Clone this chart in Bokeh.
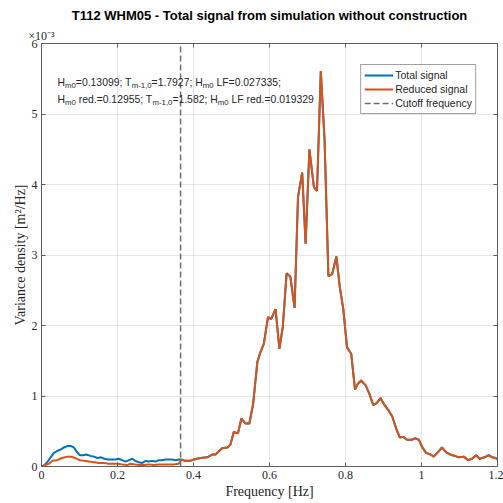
from bokeh.plotting import figure
from bokeh.models import (Range1d, LinearAxis, Label, FixedTicker, Legend, LegendItem,
                          CustomLabelingPolicy)
from bokeh.embed import file_html
from bokeh.resources import INLINE

# ---------------- data (variance density in units of 1e-3 m^2/Hz) ----------------
title_text = "T112 WHM05 - Total signal from simulation without construction"
x_label = "Frequency [Hz]"
y_label = "Variance density [m\u00b2/Hz]"
y_scale_text = "\u00d710\u207b\u00b3"

x_ticks = [0, 0.2, 0.4, 0.6, 0.8, 1.0, 1.2]
x_tick_labels = ["0", "0.2", "0.4", "0.6", "0.8", "1", "1.2"]
y_ticks = [0, 1, 2, 3, 4, 5, 6]
y_tick_labels = ["0", "1", "2", "3", "4", "5", "6"]

cutoff_freq = 0.366

freq_reduced = [0.000, 0.010, 0.020, 0.028, 0.041, 0.054, 0.068, 0.078, 0.089, 0.101,
                0.112, 0.125, 0.138, 0.151, 0.164, 0.177, 0.190, 0.201, 0.212, 0.226,
                0.234, 0.245, 0.256, 0.270, 0.282, 0.295, 0.309, 0.322, 0.335, 0.348,
                0.361, 0.368, 0.377, 0.383, 0.392, 0.401, 0.418, 0.436, 0.449, 0.458,
                0.475, 0.489, 0.497, 0.506, 0.517, 0.526, 0.537, 0.547, 0.557, 0.568,
                0.576, 0.585, 0.596, 0.604, 0.616, 0.626, 0.635, 0.645, 0.655, 0.666,
                0.675, 0.686, 0.695, 0.705, 0.717, 0.725, 0.735, 0.745, 0.755, 0.765,
                0.776, 0.785, 0.794, 0.804, 0.815, 0.825, 0.832, 0.841, 0.853, 0.863,
                0.873, 0.882, 0.892, 0.903, 0.914, 0.923, 0.934, 0.943, 0.952, 0.962,
                0.974, 0.984, 0.993, 1.002, 1.013, 1.024, 1.032, 1.043, 1.054, 1.065,
                1.076, 1.088, 1.098, 1.111, 1.123, 1.133, 1.144, 1.153, 1.166, 1.177,
                1.186, 1.195, 1.200]
psd_reduced = [0.00, 0.02, 0.04, 0.08, 0.09, 0.12, 0.14, 0.14, 0.12, 0.09,
               0.08, 0.07, 0.06, 0.05, 0.05, 0.04, 0.04, 0.04, 0.03, 0.02,
               0.04, 0.03, 0.02, 0.02, 0.03, 0.02, 0.03, 0.03, 0.03, 0.03,
               0.04, 0.10, 0.08, 0.08, 0.08, 0.10, 0.12, 0.13, 0.17, 0.17,
               0.26, 0.27, 0.31, 0.49, 0.47, 0.68, 0.61, 0.61, 0.89, 1.48,
               1.62, 1.74, 2.12, 2.09, 2.23, 1.67, 1.98, 2.74, 2.69, 2.25,
               3.82, 4.17, 3.16, 4.50, 3.96, 3.91, 5.61, 4.62, 2.70, 2.73,
               2.98, 2.54, 2.24, 1.69, 1.60, 1.09, 1.17, 1.22, 1.15, 1.03,
               0.87, 0.90, 0.97, 0.87, 0.79, 0.71, 0.53, 0.41, 0.42, 0.38,
               0.38, 0.40, 0.38, 0.27, 0.19, 0.17, 0.14, 0.20, 0.27, 0.20,
               0.17, 0.15, 0.13, 0.14, 0.09, 0.11, 0.16, 0.11, 0.13, 0.16,
               0.13, 0.12, 0.10]

freq_total_low = [0.000, 0.006, 0.015, 0.024, 0.032, 0.041, 0.050, 0.059, 0.068, 0.078,
                  0.085, 0.094, 0.101, 0.110, 0.118, 0.129, 0.138, 0.147, 0.157, 0.166,
                  0.175, 0.186, 0.195, 0.203, 0.212, 0.221, 0.230, 0.239, 0.247, 0.256,
                  0.265, 0.274, 0.282, 0.291, 0.300, 0.309, 0.318, 0.326, 0.335, 0.344,
                  0.353, 0.361, 0.368]
psd_total_low = [0.00, 0.01, 0.06, 0.13, 0.19, 0.22, 0.24, 0.27, 0.29, 0.29,
                 0.27, 0.20, 0.16, 0.16, 0.17, 0.15, 0.14, 0.12, 0.13, 0.11,
                 0.10, 0.10, 0.10, 0.11, 0.09, 0.07, 0.09, 0.11, 0.08, 0.06,
                 0.05, 0.08, 0.07, 0.08, 0.07, 0.09, 0.09, 0.10, 0.10, 0.10,
                 0.09, 0.10, 0.10]

# above the cutoff the total signal equals the reduced one
freq_total = freq_total_low + [f for f in freq_reduced if f > freq_total_low[-1]]
psd_total = psd_total_low + [v for f, v in zip(freq_reduced, psd_reduced) if f > freq_total_low[-1]]

series_names = ["Total signal", "Reduced signal", "Cutoff frequency"]
line1 = [("H", False), ("m0", True), ("=0.13099; T", False), ("m-1,0", True),
         ("=1.7927; H", False), ("m0", True), (" LF=0.027335;", False)]
line2 = [("H", False), ("m0", True), (" red.=0.12955; T", False), ("m-1,0", True),
         ("=1.582; H", False), ("m0", True), (" LF red.=0.019329", False)]

# ---------------- styling ----------------
BLUE = "#0072BD"
ORANGE = "#D95319"
AXC = "#5e5e5e"
TXT = "#262626"
SANS = "Liberation Sans"
SERIF = "Liberation Serif"

ARIAL = {" ": 278, "=": 584, ".": 278, ";": 278, ",": 278, "-": 333, "H": 722, "T": 611,
         "L": 556, "F": 611, "m": 833, "r": 333, "e": 556, "d": 556}
for ch in "0123456789":
    ARIAL[ch] = 556


def text_w(s, size):
    return sum(ARIAL.get(c, 556) for c in s) * size / 1000.0


p = figure(width=503, height=503, output_backend="svg", toolbar_location=None,
           x_range=Range1d(0, 1.2), y_range=Range1d(0, 6),
           min_border_left=41, min_border_right=6, min_border_top=43, min_border_bottom=37,
           background_fill_color="white", border_fill_color="white")
p.outline_line_color = AXC

p.title.text = title_text
p.title.text_font = SANS
p.title.text_font_style = "bold"
p.title.text_font_size = "13px"
p.title.text_color = "black"
p.title.align = "center"
p.title.standoff = 6

r_tot = p.line(freq_total, psd_total, line_color=BLUE, line_width=2)
r_red = p.line(freq_reduced, psd_reduced, line_color=ORANGE, line_width=2)
r_cut = p.line([cutoff_freq, cutoff_freq], [y_ticks[0], y_ticks[-1]], line_color="#6e6e6e",
               line_width=1.5, line_dash="6 3")

xlab = dict(zip(x_ticks, x_tick_labels))
ylab = dict(zip(y_ticks, y_tick_labels))
HIDE_ALL = "for (const i of indices) indices.unset(i); return indices"


def style_axis(ax, labels, show):
    ax.axis_line_color = AXC
    ax.major_tick_line_color = AXC
    ax.major_tick_in = 4
    ax.major_tick_out = 0
    ax.minor_tick_line_color = None
    if show:
        ax.major_label_overrides = labels
        ax.major_label_text_font = SERIF
        ax.major_label_text_font_size = "12px"
        ax.major_label_text_color = TXT
        ax.major_label_standoff = 4
    else:
        ax.major_label_policy = CustomLabelingPolicy(code=HIDE_ALL)
        ax.major_label_text_font_size = "0px"
        ax.major_label_standoff = 0


p.xaxis.ticker = FixedTicker(ticks=x_ticks)
p.yaxis.ticker = FixedTicker(ticks=y_ticks)
style_axis(p.xaxis[0], xlab, True)
style_axis(p.yaxis[0], ylab, True)

for ax, lab in ((p.xaxis[0], x_label), (p.yaxis[0], y_label)):
    ax.axis_label = lab
    ax.axis_label_text_font = SERIF
    ax.axis_label_text_font_style = "normal"
    ax.axis_label_text_font_size = "14px"
    ax.axis_label_text_color = TXT
    ax.axis_label_standoff = 2
p.yaxis[0].axis_label_standoff = 1

top = LinearAxis(ticker=FixedTicker(ticks=x_ticks))
style_axis(top, xlab, False)
top.axis_label = y_scale_text
top.axis_label_text_font = SERIF
top.axis_label_text_font_style = "normal"
top.axis_label_text_font_size = "12px"
top.axis_label_text_color = TXT
top.axis_label_standoff = 1
top.axis_label_align = "start"
p.add_layout(top, "above")

right = LinearAxis(ticker=FixedTicker(ticks=y_ticks))
style_axis(right, ylab, False)
p.add_layout(right, "right")

p.xgrid.ticker = FixedTicker(ticks=x_ticks)
p.ygrid.ticker = FixedTicker(ticks=y_ticks)
for g in (p.xgrid[0], p.ygrid[0]):
    g.grid_line_color = "#262626"
    g.grid_line_alpha = 0.12

# annotation text with subscripts (SVG drops leading blanks, so blanks become offsets)
MAIN = 10.4
SUB = 7.8
for pieces, yoff in ((line1, -38.5), (line2, -56)):
    xo = 16.0
    for t, sub in pieces:
        size = SUB if sub else MAIN
        lead = len(t) - len(t.lstrip(" "))
        xo += text_w(" " * lead, size)
        body = t.lstrip(" ")
        p.add_layout(Label(x=0, y=6, x_offset=xo, y_offset=yoff - (3 if sub else 0),
                           text=body, text_font=SANS, text_font_size=f"{size}px",
                           text_color=TXT, text_baseline="middle"))
        xo += text_w(body, size)

legend = Legend(items=[LegendItem(label=series_names[0], renderers=[r_tot]),
                       LegendItem(label=series_names[1], renderers=[r_red]),
                       LegendItem(label=series_names[2], renderers=[r_cut])],
                location="top_right", margin=21, padding=3, spacing=0,
                glyph_width=29, glyph_height=14, label_height=14, label_standoff=2,
                label_text_font=SANS, label_text_font_size="10.5px", label_text_color=TXT,
                border_line_color="#444444", border_line_width=1,
                background_fill_color="white", background_fill_alpha=1)
p.add_layout(legend)

open("out.html", "w").write(file_html(p, INLINE))
